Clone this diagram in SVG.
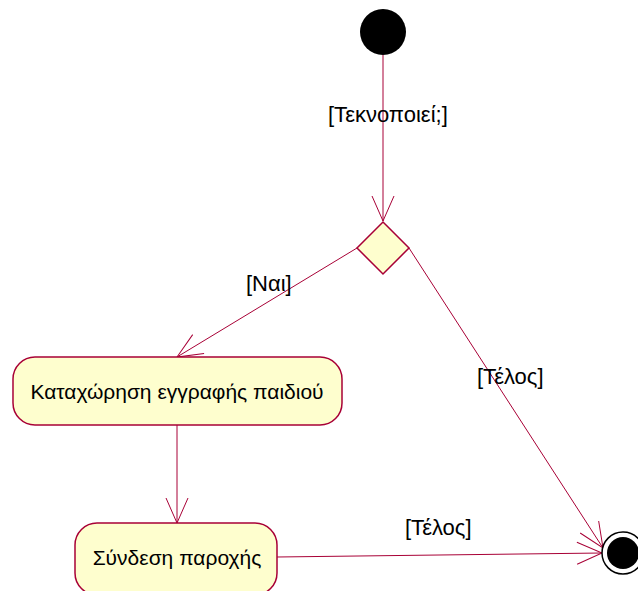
<svg xmlns="http://www.w3.org/2000/svg" width="638" height="591" viewBox="0 0 638 591">
  <defs>
    <marker id="arrow" markerUnits="userSpaceOnUse" viewBox="-27 -14 30 28" markerWidth="30" markerHeight="28" refX="0" refY="0" orient="auto">
      <path d="M-25,-11 L0,0 L-25,11" fill="none" stroke="#A80036" stroke-width="1"/>
    </marker>
    <style>
      .edge { fill: none; stroke: #A80036; stroke-width: 1; marker-end: url(#arrow); }
      .node { fill: #FEFECE; stroke: #A80036; stroke-width: 1.5; }
      .label { font-family: "Liberation Sans", Arial, sans-serif; font-size: 22px; fill: #000; }
      .ntext { font-family: "Liberation Sans", Arial, sans-serif; font-size: 21px; fill: #000; text-anchor: middle; }
    </style>
  </defs>

  <g id="connectors">
    <line class="edge" x1="383" y1="55" x2="383" y2="221"/>
    <line class="edge" x1="357" y1="248" x2="177" y2="357"/>
    <line class="edge" x1="409" y1="248" x2="603" y2="548"/>
    <line class="edge" x1="177" y1="425" x2="177" y2="523"/>
    <line class="edge" x1="277" y1="557" x2="602" y2="553"/>
    <text class="label" x="328" y="122">[Τεκνοποιεί;]</text>
    <text class="label" x="246" y="291">[Ναι]</text>
    <text class="label" x="477" y="384">[Τέλος]</text>
    <text class="label" x="405" y="535">[Τέλος]</text>
  </g>

  <g id="start">
    <circle cx="383" cy="32" r="23" fill="#000"/>
  </g>

  <g id="decision">
    <polygon class="node" points="383,222 409,248 383,274 357,248"/>
  </g>

  <g id="register-child">
    <rect class="node" x="13" y="357" width="329" height="68" rx="22" ry="22"/>
    <text class="ntext" x="177" y="399">Καταχώρηση εγγραφής παιδιού</text>
  </g>

  <g id="supply-connection">
    <rect class="node" x="75" y="523" width="202" height="72" rx="22" ry="22"/>
    <text class="ntext" x="177" y="565">Σύνδεση παροχής</text>
  </g>

  <g id="end">
    <circle cx="623" cy="553" r="21" fill="#fff" stroke="#000" stroke-width="1.5"/>
    <circle cx="623" cy="553" r="16" fill="#000"/>
  </g>
</svg>
